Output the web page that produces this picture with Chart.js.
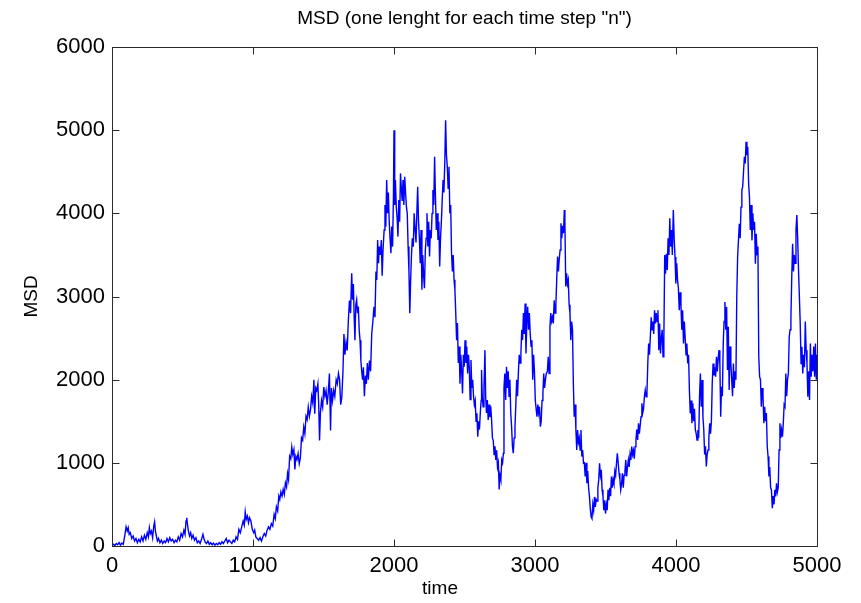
<!DOCTYPE html>
<html><head><meta charset="utf-8">
<script src="https://cdn.jsdelivr.net/npm/chart.js@4/dist/chart.umd.min.js"></script>
<style>html,body{margin:0;padding:0;background:#fff}canvas{display:block}</style>
</head><body>
<canvas id="c" width="861" height="603"></canvas>
<script>
const titleText = 'MSD (one lenght for each time step "n")';
const xLabel = 'time';
const yLabel = 'MSD';
const xTicks = [0, 1000, 2000, 3000, 4000, 5000];
const yTicks = [0, 1000, 2000, 3000, 4000, 5000, 6000];

const times = [
0,10,20,30,40,50,60,70,80,90,
100,108,115,122,130,140,150,160,170,180,
190,200,210,220,230,240,250,258,265,272,
280,288,296,302,308,315,322,330,340,350,
360,370,380,390,400,410,420,430,440,450,
460,470,480,490,500,510,518,525,530,536,
542,550,558,566,575,585,595,605,615,625,
635,645,652,660,670,680,690,700,710,720,
730,740,750,760,770,780,790,800,810,820,
830,840,850,860,870,880,890,900,910,920,
930,938,945,952,960,968,975,985,995,1005,
1012,1020,1030,1040,1050,1060,1070,1080,1090,1100,
1110,1120,1130,1140,1150,1158,1166,1175,1183,1190,
1198,1206,1214,1222,1230,1238,1245,1252,1260,1268,
1275,1282,1290,1297,1304,1312,1320,1328,1336,1344,
1352,1360,1368,1376,1384,1392,1400,1408,1416,1424,
1432,1438,1445,1452,1460,1466,1472,1478,1486,1494,
1502,1510,1518,1526,1534,1542,1550,1556,1564,1572,
1580,1590,1598,1606,1614,1622,1630,1638,1645,1652,
1660,1668,1676,1684,1692,1700,1706,1712,1718,1723,
1729,1735,1741,1747,1753,1759,1765,1771,1777,1783,
1790,1797,1804,1811,1818,1826,1834,1842,1850,1858,
1865,1872,1878,1884,1890,1896,1903,1910,1916,1922,
1930,1936,1942,1948,1954,1960,1966,1972,1978,1984,
1990,1996,2000,2005,2010,2016,2022,2028,2034,2040,
2046,2052,2058,2064,2070,2076,2082,2088,2094,2100,
2106,2112,2118,2124,2130,2137,2143,2150,2156,2162,
2168,2174,2180,2186,2192,2198,2204,2210,2216,2222,
2228,2234,2240,2246,2252,2258,2264,2270,2276,2282,
2288,2294,2300,2306,2312,2318,2324,2330,2336,2342,
2348,2354,2360,2366,2372,2378,2384,2390,2396,2402,
2408,2414,2420,2426,2432,2438,2444,2450,2456,2462,
2468,2474,2480,2486,2492,2498,2504,2510,2516,2522,
2528,2534,2540,2546,2552,2558,2564,2570,2576,2582,
2588,2594,2600,2606,2612,2618,2621,2626,2632,2638,
2645,2650,2656,2662,2668,2674,2680,2686,2692,2698,
2704,2710,2716,2722,2728,2734,2740,2746,2752,2758,
2764,2770,2776,2780,2786,2792,2798,2804,2810,2816,
2822,2828,2834,2840,2846,2852,2858,2864,2870,2876,
2882,2888,2894,2900,2906,2912,2918,2924,2930,2936,
2942,2948,2954,2960,2966,2972,2978,2984,2990,2996,
3002,3008,3014,3020,3026,3032,3038,3044,3050,3056,
3062,3068,3074,3080,3088,3094,3100,3106,3112,3118,
3124,3130,3136,3142,3148,3154,3160,3166,3172,3178,
3184,3190,3196,3202,3208,3212,3218,3224,3230,3236,
3242,3248,3254,3260,3266,3272,3278,3284,3290,3296,
3302,3308,3314,3320,3326,3332,3338,3344,3350,3356,
3362,3368,3374,3380,3386,3392,3398,3404,3410,3416,
3422,3428,3434,3440,3446,3452,3458,3464,3470,3476,
3482,3488,3494,3500,3506,3512,3518,3524,3530,3536,
3542,3548,3554,3560,3566,3572,3578,3584,3590,3596,
3602,3608,3614,3620,3626,3632,3638,3644,3650,3656,
3662,3668,3674,3680,3686,3692,3698,3704,3710,3716,
3722,3728,3734,3740,3746,3752,3758,3764,3770,3776,
3782,3788,3794,3800,3806,3812,3818,3824,3830,3836,
3842,3848,3854,3860,3866,3872,3878,3884,3890,3896,
3902,3908,3914,3920,3926,3932,3938,3944,3950,3956,
3962,3968,3974,3981,3987,3993,3999,4005,4011,4017,
4023,4029,4035,4041,4047,4053,4059,4065,4071,4077,
4083,4089,4095,4101,4107,4113,4119,4125,4131,4137,
4143,4149,4155,4161,4167,4173,4179,4185,4191,4197,
4203,4209,4215,4221,4227,4233,4239,4245,4251,4257,
4263,4269,4275,4281,4287,4293,4299,4305,4311,4317,
4323,4329,4335,4341,4347,4353,4359,4365,4371,4377,
4383,4389,4395,4401,4407,4413,4419,4425,4431,4437,
4443,4449,4455,4461,4467,4473,4479,4485,4491,4497,
4503,4509,4515,4521,4527,4533,4539,4545,4551,4557,
4563,4569,4575,4581,4587,4593,4599,4605,4611,4617,
4623,4629,4635,4641,4647,4653,4659,4665,4671,4677,
4683,4689,4695,4701,4707,4713,4719,4725,4731,4737,
4743,4749,4755,4761,4767,4773,4779,4785,4791,4797,
4803,4809,4815,4821,4827,4833,4839,4845,4851,4857,
4863,4869,4875,4881,4887,4893,4899,4905,4911,4917,
4923,4929,4935,4941,4947,4953,4959,4965,4971,4977,
4983,4989,4995,5000
];

const msd = [
0,20,5,30,15,40,10,35,20,120,
230,180,220,140,160,90,120,60,90,40,
80,50,110,60,130,80,160,110,220,150,
180,100,240,290,180,120,60,90,40,70,
30,60,40,90,50,100,60,80,40,70,
50,110,70,150,110,190,140,300,340,250,
180,120,160,90,130,70,100,40,60,30,
80,140,90,50,30,60,20,40,15,35,
10,30,15,40,20,50,30,60,90,40,
70,50,30,70,50,110,80,200,160,230,
300,250,410,320,360,280,340,300,200,160,
190,110,90,70,100,60,110,150,120,190,
230,200,270,240,380,330,470,420,600,560,
650,600,680,620,760,710,870,800,1080,1050,
1190,1100,1160,920,1080,1040,1110,990,1060,1300,
1270,1430,1350,1560,1520,1670,1560,1640,1800,1720,
2000,1590,1900,1870,1950,1700,1270,1600,1750,1670,
1910,1800,1870,1700,1850,2075,1390,1900,1750,1870,
1800,2000,1950,2075,2000,1700,1790,2100,2550,2300,
2450,2350,2700,2950,2800,3280,2960,3150,2720,2475,
2900,2960,2800,2880,2600,2475,2230,2100,2000,2150,
1800,2050,1950,2200,2000,2230,2100,2550,2700,2875,
2750,3300,3200,3680,3400,3600,3500,3680,3250,3550,
3800,4100,3840,4400,4000,4250,3900,3700,3520,3840,
3600,4200,5000,4100,4400,4080,3950,3720,4160,3900,
4480,4300,4150,4400,4100,4440,4250,4080,4000,3600,
3300,2800,3200,3500,3700,3600,4000,3800,3650,4000,
4320,3900,3700,3400,3800,3080,3500,3250,3100,3550,
3700,4000,3600,3900,3480,3800,3700,4000,4280,4100,
4680,4200,3800,4000,3680,3900,3360,3700,3900,4160,
4400,4250,4600,5120,4700,4560,4300,4560,4000,4100,
3520,3300,3500,3200,3080,2800,2475,2680,2200,2400,
1950,2300,2100,1835,2300,2155,2475,2200,2400,2075,
2300,2150,1760,2235,1900,2000,1800,1700,1750,1500,
1595,1315,1500,1400,1600,1750,2115,1800,1675,1900,
2355,1800,1600,1755,1515,1700,1550,1680,1520,1300,
1270,1100,1200,1035,1150,950,1000,680,850,800,
1035,1000,1115,1900,2075,1755,2155,1900,2100,1800,
2000,1600,1435,1200,1115,1300,1435,1700,2000,1800,
2075,2300,2200,2315,2600,2475,2800,2550,2915,2315,
2700,2875,2600,2800,2555,2400,2475,2000,2300,2100,
1755,1650,1555,1700,1600,1675,1435,1500,1750,1835,
2075,1900,2000,2075,2100,2275,2075,2635,2800,2700,
2750,2675,2955,2800,2900,3200,3480,3300,3450,3560,
3880,3700,3850,3760,4040,3900,3120,3280,3150,3200,
2900,2800,2475,2700,2600,1955,1555,1700,1400,1155,
1395,1250,1300,1155,1395,1075,1155,995,1000,835,
1000,755,900,700,600,450,350,330,500,430,
590,470,560,540,700,795,995,850,915,675,
600,430,550,390,500,430,675,550,700,600,
835,700,800,750,900,850,995,1115,1000,875,
800,675,750,875,700,850,900,1035,835,950,
1035,950,1100,1035,1195,1100,1150,1050,1195,1280,
1400,1275,1475,1350,1450,1555,1715,1600,1650,1800,
1875,1795,1850,2195,2435,2300,2515,2750,2600,2700,
2550,2835,2675,2800,2700,2835,2355,2675,2315,2500,
2600,2275,2500,3500,3275,3515,3320,3700,3500,3940,
3600,3800,3500,4040,3700,3475,3155,3400,3200,3100,
2835,3050,2900,2600,2835,2435,2700,2500,2300,2435,
2195,2300,1875,1595,1750,1475,1715,1500,1650,1400,
1350,1275,1395,1300,1800,2075,1675,1995,1555,1400,
1100,1200,955,1100,1155,1300,1475,1350,1500,1955,
2195,2050,2150,2035,2275,2100,2250,2355,2195,1555,
1915,1800,2435,2700,2935,2600,2875,2115,2635,1875,
2400,2195,2000,1800,2195,1900,2100,2000,3000,3475,
3675,3875,3700,4075,4280,4320,4500,4680,4600,4860,
4700,4800,4360,4200,3800,4100,3675,4000,3800,3900,
3395,3755,3500,3600,2275,2035,2000,1675,1900,1800,
1475,1675,1500,1600,1200,1075,835,950,700,675,
455,600,500,675,595,755,650,700,1155,1475,
1300,1400,1315,1475,1700,1675,2075,1800,2000,2075,
2515,2600,2755,3235,3635,3300,3500,3400,3800,3980,
3700,3315,3000,2675,2195,2395,2075,2300,2150,2700,
2355,2195,1795,2100,1755,2435,2035,2300,2100,2400,
2035,2435,2000,2300
];

const points = times.map((t, i) => ({ x: t, y: msd[i] }));
const FONT = "'Liberation Sans', Arial, Helvetica, sans-serif";

const boxPlugin = {
  id: 'matlabBox',
  afterDatasetsDraw(chart) {
    const { ctx, chartArea: a, scales: { x, y } } = chart;
    const L = 7;
    ctx.save();
    ctx.strokeStyle = '#2b2b2b';
    ctx.lineWidth = 1;
    const l = Math.round(a.left) + 0.5, r = Math.round(a.right) + 0.5;
    const t = Math.round(a.top) + 0.5, b = Math.round(a.bottom) + 0.5;
    ctx.strokeRect(l, t, r - l, b - t);
    ctx.beginPath();
    xTicks.forEach(v => {
      const px = Math.round(x.getPixelForValue(v)) + 0.5;
      ctx.moveTo(px, b); ctx.lineTo(px, b - L);
      ctx.moveTo(px, t); ctx.lineTo(px, t + L);
    });
    yTicks.forEach(v => {
      const py = Math.round(y.getPixelForValue(v)) + 0.5;
      ctx.moveTo(l, py); ctx.lineTo(l + L, py);
      ctx.moveTo(r, py); ctx.lineTo(r - L, py);
    });
    ctx.stroke();
    // x-axis label
    ctx.fillStyle = '#000';
    ctx.font = '19px ' + FONT;
    ctx.textAlign = 'center';
    ctx.textBaseline = 'middle';
    ctx.fillText(xLabel, 440, 589);
    ctx.restore();
  }
};

new Chart(document.getElementById('c'), {
  type: 'line',
  data: {
    datasets: [{
      data: points,
      borderColor: '#0000ff',
      borderWidth: 1.4,
      pointRadius: 0,
      tension: 0,
      fill: false
    }]
  },
  options: {
    responsive: false,
    animation: false,
    devicePixelRatio: 1,
    layout: { padding: { left: 0, right: 44, top: 0, bottom: 0 } },
    plugins: {
      legend: { display: false },
      tooltip: { enabled: false },
      title: {
        display: true,
        fullSize: false,
        text: titleText,
        color: '#000',
        font: { family: FONT, size: 19, weight: 'normal' },
        padding: { top: 7, bottom: 17.2 }
      }
    },
    scales: {
      x: {
        type: 'linear',
        min: 0, max: 5000,
        afterBuildTicks(s) { s.ticks = xTicks.map(v => ({ value: v })); },
        afterFit(s) { s.height = 57; },
        grid: { display: false, drawTicks: false },
        border: { display: false },
        ticks: { color: '#000', font: { family: FONT, size: 22 }, padding: 7, maxRotation: 0, autoSkip: false, callback: v => String(v) },
        title: { display: false }
      },
      y: {
        type: 'linear',
        min: 0, max: 6000,
        afterBuildTicks(s) { s.ticks = yTicks.map(v => ({ value: v })); },
        afterFit(s) { s.width = 112; },
        grid: { display: false, drawTicks: false },
        border: { display: false },
        ticks: { color: '#000', font: { family: FONT, size: 22 }, padding: 7, autoSkip: false, callback: v => String(v) },
        title: { display: true, text: yLabel, color: '#000', font: { family: FONT, size: 19 }, padding: { top: 20, bottom: 0 } }
      }
    }
  },
  plugins: [boxPlugin]
});
</script>
</body></html>
